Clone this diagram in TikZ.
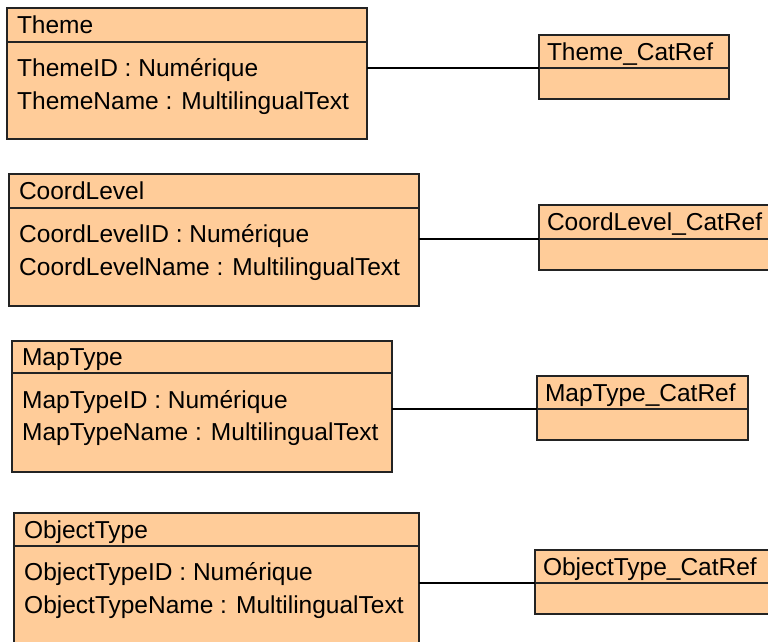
\documentclass[tikz,border=0pt]{standalone}
\usepackage{fontspec}
\setmainfont{Liberation Sans}
\usepackage{tikz}
\definecolor{classfill}{RGB}{255,204,153}
\definecolor{classline}{RGB}{35,35,35}
\tikzset{
  umlbox/.style={draw=classline, fill=classfill, line width=1.4pt, anchor=north west, inner sep=0pt, outer sep=0pt},
  classhead/.style={umlbox, text width=#1, align=left, inner xsep=10pt, minimum height=33pt, text height=19pt, text depth=2pt},
  cathead/.style={classhead=#1, inner xsep=8pt},
  classbody/.style 2 args={umlbox, minimum width=#1, minimum height=#2},
  attr/.style={anchor=base west, inner sep=0pt},
  assoc/.style={draw=black, line width=1.4pt}
}

\begin{document}
\begin{tikzpicture}[x=1pt, y=-1pt, every node/.style={font=\fontsize{24.5}{29}\selectfont}]
    % frame of the picture
    \useasboundingbox (0,0) rectangle (768,641);
    \clip (0,0) rectangle (768,641);

    % 1. Theme
    \node[classhead=340pt, minimum height=34pt] (themeHead) at (7,8) {Theme};
    \node[classbody={360pt}{97pt}] (themeBody) at (themeHead.south west) {};
    \node[attr] (themeID) at ([shift={(10,34)}]themeBody.north west) {ThemeID : Numérique};
    \node[attr] (themeName) at ([shift={(0,33)}]themeID.base west) {ThemeName : MultilingualText};

    \node[cathead=174pt] (themeCat) at (539,35) {Theme\_CatRef};
    \node[classbody={190pt}{31pt}] (themeCatBody) at (themeCat.south west) {};
    \draw[assoc] (themeBody.east |- themeCat.south west) -- (themeCat.south west);

    % 2. CoordLevel
    \node[classhead=390pt, minimum height=34pt] (coordHead) at (9,174) {CoordLevel};
    \node[classbody={410pt}{98pt}] (coordBody) at (coordHead.south west) {};
    \node[attr] (coordID) at ([shift={(10,34)}]coordBody.north west) {CoordLevelID : Numérique};
    \node[attr] (coordName) at ([shift={(0,33)}]coordID.base west) {CoordLevelName : MultilingualText};

    \node[cathead=224pt, minimum height=34pt] (coordCat) at (539,205) {CoordLevel\_CatRef};
    \node[classbody={240pt}{31pt}] (coordCatBody) at (coordCat.south west) {};
    \draw[assoc] (coordBody.east |- coordCat.south west) -- (coordCat.south west);

    % 3. MapType
    \node[classhead=360pt, minimum height=32pt] (mapHead) at (12,341) {MapType};
    \node[classbody={380pt}{99pt}] (mapBody) at (mapHead.south west) {};
    \node[attr] (mapID) at ([shift={(10,35)}]mapBody.north west) {MapTypeID : Numérique};
    \node[attr] (mapName) at ([shift={(0,32)}]mapID.base west) {MapTypeName : MultilingualText};

    \node[cathead=195pt] (mapCat) at (537,376) {MapType\_CatRef};
    \node[classbody={211pt}{31pt}] (mapCatBody) at (mapCat.south west) {};
    \draw[assoc] (mapBody.east |- mapCat.south west) -- (mapCat.south west);

    % 4. ObjectType
    \node[classhead=385pt] (objHead) at (14,513) {ObjectType};
    \node[classbody={405pt}{110pt}] (objBody) at (objHead.south west) {};
    \node[attr] (objID) at ([shift={(10,34)}]objBody.north west) {ObjectTypeID : Numérique};
    \node[attr] (objName) at ([shift={(0,33)}]objID.base west) {ObjectTypeName : MultilingualText};

    \node[cathead=229pt] (objCat) at (535,550) {ObjectType\_CatRef};
    \node[classbody={245pt}{31pt}] (objCatBody) at (objCat.south west) {};
    \draw[assoc] (objBody.east |- objCat.south west) -- (objCat.south west);
\end{tikzpicture}
\end{document}
